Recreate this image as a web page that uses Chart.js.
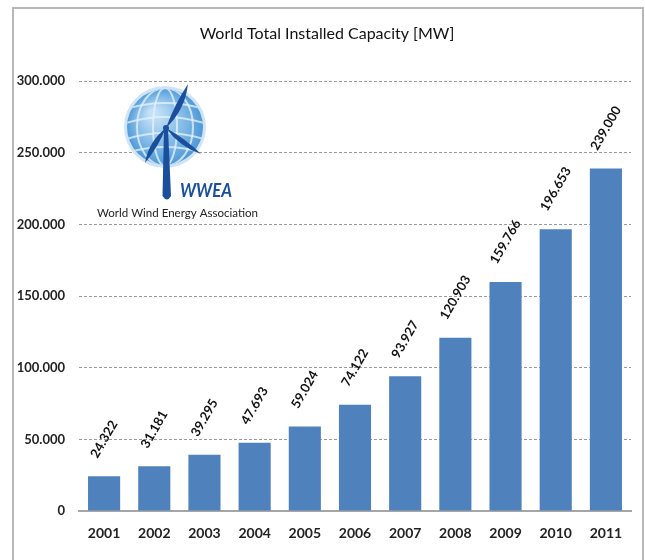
<!DOCTYPE html>
<html>
<head>
<meta charset="utf-8">
<title>World Total Installed Capacity</title>
<script src="https://cdn.jsdelivr.net/npm/chart.js@4.4.1/dist/chart.umd.min.js"></script>
<style>
  body { margin: 0; background: #fff; }
  #wrap { position: relative; width: 645px; height: 560px; overflow: hidden; }
  #frame { position: absolute; left: 12px; top: 7px; width: 628px; height: 600px; border: 2px solid #b8b8b8; }
  canvas { position: absolute; left: 0; top: 0; }
</style>
</head>
<body>
<div id="wrap">
  <div id="frame"></div>
  <canvas id="myChart" width="645" height="560"></canvas>
</div>
<script>
const years = ["2001", "2002", "2003", "2004", "2005", "2006", "2007", "2008", "2009", "2010", "2011"];
const capacity = [24322, 31181, 39295, 47693, 59024, 74122, 93927, 120903, 159766, 196653, 239000];
const yMax = 300000;
const yStep = 50000;
const chartTitle = "World Total Installed Capacity [MW]";

const barColor = "#4f81bd";
const fontName = "Lato, 'Open Sans', sans-serif";

// 24322 -> "24.322"
function dotted(n) {
  return String(n).replace(/\B(?=(\d{3})+(?!\d))/g, ".");
}

// WWEA logo: globe, turbine and name
function drawLogo(ctx) {
  const cx = 165, cy = 127, r = 39;
  ctx.save();

  ctx.beginPath();
  ctx.arc(cx, cy, r + 2, 0, Math.PI * 2);
  ctx.fillStyle = "#cfe4f6";
  ctx.fill();

  const g = ctx.createRadialGradient(cx - 12, cy - 14, 4, cx, cy, r);
  g.addColorStop(0, "#c4e1f7");
  g.addColorStop(0.6, "#7fb8e6");
  g.addColorStop(1, "#4c97d6");
  ctx.beginPath();
  ctx.arc(cx, cy, r - 1, 0, Math.PI * 2);
  ctx.fillStyle = g;
  ctx.fill();

  // globe grid
  ctx.save();
  ctx.beginPath();
  ctx.arc(cx, cy, r - 1, 0, Math.PI * 2);
  ctx.clip();
  ctx.strokeStyle = "rgba(225,240,252,0.8)";
  ctx.lineWidth = 2;
  [-22, -8, 8, 22].forEach(function (dy) {
    ctx.beginPath();
    ctx.moveTo(cx - r, cy + dy + 4);
    ctx.quadraticCurveTo(cx, cy + dy - 8, cx + r, cy + dy + 4);
    ctx.stroke();
  });
  [12, 28].forEach(function (rx) {
    ctx.beginPath();
    ctx.ellipse(cx, cy, rx, r, 0, 0, Math.PI * 2);
    ctx.stroke();
  });
  ctx.restore();

  // turbine
  const hx = 166, hy = 128;
  ctx.fillStyle = "#1a4f9c";
  ctx.beginPath();
  ctx.moveTo(hx - 2, hy);
  ctx.lineTo(hx + 2, hy);
  ctx.lineTo(hx + 5, 196);
  ctx.quadraticCurveTo(hx + 1, 203, hx - 3.5, 196);
  ctx.closePath();
  ctx.fill();

  function blade(tx, ty, bend) {
    const mx = (hx + tx) / 2, my = (hy + ty) / 2;
    const nx = -(ty - hy), ny = tx - hx;
    const len = Math.sqrt(nx * nx + ny * ny);
    const ox = nx / len, oy = ny / len;
    ctx.beginPath();
    ctx.moveTo(hx, hy);
    ctx.quadraticCurveTo(mx + ox * bend, my + oy * bend, tx, ty);
    ctx.quadraticCurveTo(mx - ox * 3, my - oy * 3, hx, hy);
    ctx.fill();
  }
  blade(188, 84, 9);
  blade(145, 163, 8);
  blade(201, 154, 7);
  ctx.beginPath();
  ctx.arc(hx, hy, 3, 0, Math.PI * 2);
  ctx.fill();

  ctx.fillStyle = "#1a4f9c";
  ctx.font = "italic bold 19px " + fontName;
  ctx.textAlign = "left";
  ctx.textBaseline = "middle";
  ctx.fillText("WWEA", 180, 191, 52);

  ctx.fillStyle = "#222";
  ctx.font = "12px " + fontName;
  ctx.fillText("World Wind Energy Association", 97, 213, 161);
  ctx.restore();
}

const logoPlugin = {
  id: "logo",
  beforeDatasetsDraw(chart) {
    drawLogo(chart.ctx);
  }
};

// title centred on the framed box rather than the canvas
const framedTitle = {
  id: "framedTitle",
  afterDraw(chart) {
    const ctx = chart.ctx;
    ctx.save();
    ctx.font = "16px " + fontName;
    ctx.fillStyle = "#111";
    ctx.textAlign = "center";
    ctx.textBaseline = "middle";
    ctx.fillText(chartTitle, 327, 34);
    ctx.restore();
  }
};

// rotated value labels above the bars
const valueLabels = {
  id: "valueLabels",
  afterDatasetsDraw(chart) {
    const ctx = chart.ctx;
    const meta = chart.getDatasetMeta(0);
    const ang = -60 * Math.PI / 180;
    ctx.save();
    ctx.font = "bold 13px " + fontName;
    ctx.fillStyle = "#111";
    ctx.textAlign = "center";
    ctx.textBaseline = "middle";
    meta.data.forEach(function (bar, i) {
      const txt = dotted(capacity[i]);
      const w = ctx.measureText(txt).width;
      const ext = w * Math.sin(-ang) + 13 * Math.cos(ang);
      ctx.save();
      ctx.translate(bar.x, bar.y - 16 - ext / 2);
      ctx.rotate(ang);
      ctx.fillText(txt, 0, 0);
      ctx.restore();
    });
    ctx.restore();
  }
};

new Chart("myChart", {
  type: "bar",
  data: {
    labels: years,
    datasets: [{
      data: capacity,
      backgroundColor: barColor,
      barPercentage: 0.64,
      categoryPercentage: 1
    }]
  },
  options: {
    responsive: false,
    animation: false,
    layout: { padding: { left: 0, right: 14, top: 81, bottom: 0 } },
    plugins: {
      legend: { display: false },
      tooltip: { enabled: false },
      title: { display: false }
    },
    scales: {
      x: {
        grid: { display: false },
        border: { display: true, color: "#a6a6a6", width: 2 },
        ticks: { color: "#222", font: { family: fontName, size: 14, weight: "bold" }, padding: 6 },
        afterFit(scale) { scale.height = 49; }
      },
      y: {
        min: 0,
        max: yMax,
        border: { display: false, dash: [3, 2] },
        grid: {
          drawTicks: false,
          color: function (c) { return c.tick && c.tick.value === 0 ? "rgba(0,0,0,0)" : "#9a9a9a"; }
        },
        ticks: {
          stepSize: yStep,
          color: "#222",
          font: { family: fontName, size: 13, weight: "bold" },
          padding: 14,
          callback: function (v) { return dotted(v); }
        },
        afterFit(scale) { scale.width = 79; }
      }
    }
  },
  plugins: [logoPlugin, valueLabels, framedTitle]
});
</script>
</body>
</html>
